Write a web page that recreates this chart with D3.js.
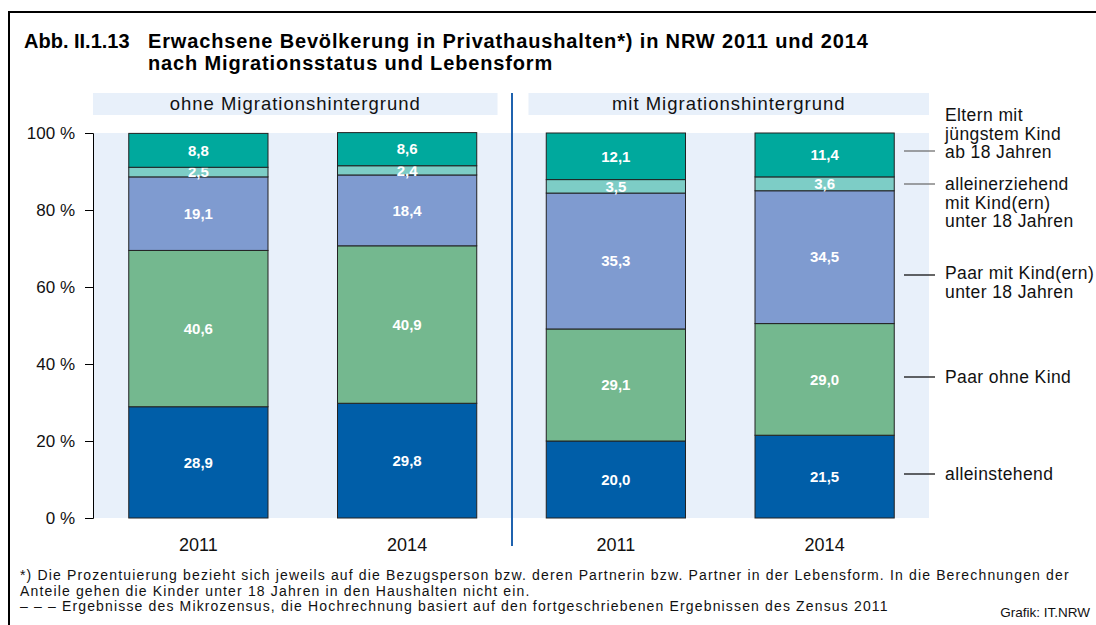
<!DOCTYPE html>
<html>
<head>
<meta charset="utf-8">
<script src="https://cdn.jsdelivr.net/npm/d3@7"></script>
<style>
  body { margin: 0; background: #fff; }
  svg { display: block; font-family: "Liberation Sans", Arial, sans-serif; }
</style>
</head>
<body>
<svg id="chart" width="1096" height="625"></svg>
<script>
// data
const groups = ["ohne Migrationshintergrund", "mit Migrationshintergrund"];
const years = ["2011", "2014"];
const categories = [
    "alleinstehend",
    "Paar ohne Kind",
    "Paar mit Kind(ern) unter 18 Jahren",
    "alleinerziehend mit Kind(ern) unter 18 Jahren",
    "Eltern mit jüngstem Kind ab 18 Jahren"
];
const legendLines = [
    ["alleinstehend"],
    ["Paar ohne Kind"],
    ["Paar mit Kind(ern)", "unter 18 Jahren"],
    ["alleinerziehend", "mit Kind(ern)", "unter 18 Jahren"],
    ["Eltern mit", "jüngstem Kind", "ab 18 Jahren"]
];
const colors = ["#005ea8", "#74b88f", "#7f9bd0", "#7dcdc6", "#00a99d"];

const ohne2011 = [28.9, 40.6, 19.1, 2.5, 8.8];
const ohne2014 = [29.8, 40.9, 18.4, 2.4, 8.6];
const mit2011 = [20.0, 29.1, 35.3, 3.5, 12.1];
const mit2014 = [21.5, 29.0, 34.5, 3.6, 11.4];

const yTicks = [0, 20, 40, 60, 80, 100];

const footnotes = [
    "*) Die Prozentuierung bezieht sich jeweils auf die Bezugsperson bzw. deren Partnerin bzw. Partner in der Lebensform. In die Berechnungen der",
    "Anteile gehen die Kinder unter 18 Jahren in den Haushalten nicht ein.",
    "– – – Ergebnisse des Mikrozensus, die Hochrechnung basiert auf den fortgeschriebenen Ergebnissen des Zensus 2011"
];

// build rows for stacking
const rows = [
    { group: groups[0], year: years[0], values: ohne2011 },
    { group: groups[0], year: years[1], values: ohne2014 },
    { group: groups[1], year: years[0], values: mit2011 },
    { group: groups[1], year: years[1], values: mit2014 }
].map(r => {
    const o = { group: r.group, year: r.year };
    categories.forEach((c, i) => o[c] = r.values[i]);
    return o;
});

const svg = d3.select("#chart");

// outer frame
svg.append("rect")
    .attr("x", 9).attr("y", 12)
    .attr("width", 1200).attr("height", 800)
    .attr("fill", "none").attr("stroke", "#000").attr("stroke-width", 2);

// title
const title = svg.append("g").attr("font-weight", "bold").attr("font-size", "20px").attr("fill", "#000");
title.append("text").attr("x", 24).attr("y", 48).text("Abb. II.1.13");
title.append("text").attr("x", 148).attr("y", 48).attr("letter-spacing", "0.85px")
    .text("Erwachsene Bevölkerung in Privathaushalten*) in NRW 2011 und 2014");
title.append("text").attr("x", 148).attr("y", 70).attr("letter-spacing", "0.85px")
    .text("nach Migrationsstatus und Lebensform");

// scales
const plotLeft = 94, plotRight = 929, plotTop = 133, plotBottom = 518;

const y = d3.scaleLinear().domain([0, 100]).range([plotBottom, plotTop]);
const x0 = d3.scaleBand().domain(groups).range([plotLeft, plotRight]);
const x1 = d3.scaleBand().domain(years).range([0, x0.bandwidth()])
    .paddingInner(0.333).paddingOuter(0.1665);
const color = d3.scaleOrdinal().domain(categories).range(colors);

// plot background
svg.append("rect")
    .attr("x", plotLeft).attr("y", plotTop)
    .attr("width", plotRight - plotLeft).attr("height", plotBottom - plotTop)
    .attr("fill", "#e8f0fa");

// group header bands
const divider = x0(groups[1]);
groups.forEach((g, i) => {
    const left = i === 0 ? x0(g) - 1 : divider + 17;
    const right = i === 0 ? divider - 14 : x0(g) + x0.bandwidth();
    svg.append("rect")
        .attr("x", left).attr("y", 93)
        .attr("width", right - left).attr("height", 22)
        .attr("fill", "#e8f0fa");
    svg.append("text")
        .attr("x", (left + right) / 2).attr("y", 104)
        .attr("dy", "0.35em")
        .attr("text-anchor", "middle")
        .attr("font-size", "18.5px")
        .attr("letter-spacing", "1px")
        .attr("fill", "#111")
        .text(g);
});

// y axis
const yAxis = d3.axisLeft(y).tickValues(yTicks).tickSize(8).tickSizeOuter(8)
    .tickFormat(d => d + " %");
const yg = svg.append("g").attr("transform", `translate(${plotLeft - 1},0)`).call(yAxis);
yg.selectAll("path, line").attr("stroke", "#000");
yg.selectAll("text").attr("font-size", "17px").attr("fill", "#111")
    .attr("font-family", "Liberation Sans, Arial, sans-serif").attr("x", -18);

// stacked bars
const stacked = d3.stack().keys(categories)(rows);
const layers = svg.append("g").selectAll("g")
    .data(stacked)
    .join("g")
    .attr("fill", d => color(d.key));

layers.selectAll("rect")
    .data(d => d.map(e => ({ ...e, key: d.key })))
    .join("rect")
    .attr("x", d => x0(d.data.group) + x1(d.data.year))
    .attr("y", d => y(d[1]))
    .attr("width", x1.bandwidth())
    .attr("height", d => y(d[0]) - y(d[1]))
    .attr("stroke", "#222")
    .attr("stroke-width", 1);

// value labels
layers.selectAll("text")
    .data(d => d.map(e => ({ ...e, key: d.key })))
    .join("text")
    .attr("x", d => x0(d.data.group) + x1(d.data.year) + x1.bandwidth() / 2)
    .attr("y", d => y((d[0] + d[1]) / 2))
    .attr("dy", "0.35em")
    .attr("text-anchor", "middle")
    .attr("font-size", "15px")
    .attr("font-weight", "bold")
    .attr("fill", "#fff")
    .text(d => d3.format(".1f")(d.data[d.key]).replace(".", ","));

// divider line between groups
svg.append("line")
    .attr("x1", divider + 0.5).attr("x2", divider + 0.5)
    .attr("y1", 93).attr("y2", 546)
    .attr("stroke", "#1f62ae").attr("stroke-width", 2);

// x labels
rows.forEach(r => {
    svg.append("text")
        .attr("x", x0(r.group) + x1(r.year) + x1.bandwidth() / 2)
        .attr("y", 545)
        .attr("dy", "0.35em")
        .attr("text-anchor", "middle")
        .attr("font-size", "18px")
        .attr("fill", "#111")
        .text(r.year);
});

// legend on the right
const legendLineY = [474, 377, 275, 184, 151];
const legendTextY = [474, 377, 273, 184, 115];
const legend = svg.append("g");
categories.forEach((c, i) => {
    legend.append("line")
        .attr("x1", 904).attr("x2", 935)
        .attr("y1", legendLineY[i]).attr("y2", legendLineY[i])
        .attr("stroke", i < 3 ? "#000" : "#666").attr("stroke-width", 1.2);
    const t = legend.append("text")
        .attr("x", 945).attr("y", legendTextY[i])
        .attr("font-size", "17.5px")
        .attr("letter-spacing", "0.4px")
        .attr("fill", "#111");
    legendLines[i].forEach((line, j) => {
        t.append("tspan").attr("x", 945).attr("dy", j === 0 ? "0.35em" : "18.5px").text(line);
    });
});

// footnotes
footnotes.forEach((f, i) => {
    svg.append("text")
        .attr("x", 20).attr("y", 580 + i * 15.5)
        .attr("font-size", "14px")
        .attr("letter-spacing", "1.15px")
        .attr("fill", "#111")
        .text(f);
});
svg.append("text")
    .attr("x", 1090).attr("y", 617)
    .attr("text-anchor", "end")
    .attr("font-size", "13.5px")
    .attr("fill", "#111")
    .text("Grafik: IT.NRW");
</script>
</body>
</html>
